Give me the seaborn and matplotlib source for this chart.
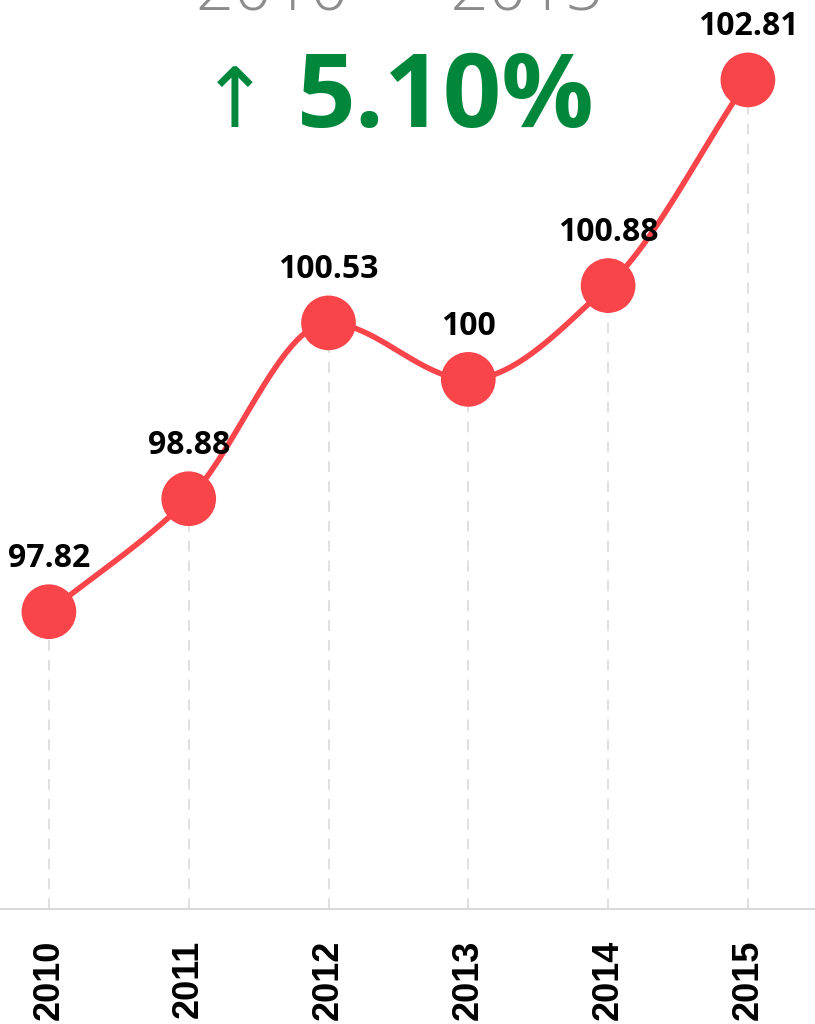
import numpy as np
import pandas as pd
import seaborn as sns
import matplotlib.pyplot as plt

# datos
years = [2010, 2011, 2012, 2013, 2014, 2015]
values = [97.82, 98.88, 100.53, 100.00, 100.88, 102.81]
value_labels = ["97.82", "98.88", "100.53", "100", "100.88", "102.81"]
period_text = "2010  –  2015"
change_text = "5.10%"

red = "#F9444A"
green = "#00873C"


def monotone_curve(x, y, n=40):
    # interpolacion cubica monotona (Fritsch-Carlson) solo para dibujar la curva
    x = np.asarray(x, float)
    y = np.asarray(y, float)
    h = np.diff(x)
    d = np.diff(y) / h
    m = np.zeros_like(y)
    m[0], m[-1] = d[0], d[-1]
    for i in range(1, len(y) - 1):
        if d[i - 1] * d[i] <= 0:
            m[i] = 0
        else:
            w1 = 2 * h[i] + h[i - 1]
            w2 = h[i] + 2 * h[i - 1]
            m[i] = (w1 + w2) / (w1 / d[i - 1] + w2 / d[i])
    xs, ys = [], []
    for i in range(len(x) - 1):
        t = np.linspace(0, 1, n)
        h00 = 2 * t**3 - 3 * t**2 + 1
        h10 = t**3 - 2 * t**2 + t
        h01 = -2 * t**3 + 3 * t**2
        h11 = t**3 - t**2
        xs.extend(x[i] + t * h[i])
        ys.extend(h00 * y[i] + h10 * h[i] * m[i] + h01 * y[i + 1] + h11 * h[i] * m[i + 1])
    return np.array(xs), np.array(ys)


sns.set_style("white")
plt.rcParams['font.family'] = ['Open Sans', 'DejaVu Sans']

fig = plt.figure(figsize=(8.15, 10.24), dpi=100)
ax = fig.add_axes([0, 115 / 1024, 1, 909 / 1024])

df = pd.DataFrame({"year": years, "value": values})
cx, cy = monotone_curve(years, values)
curve = pd.DataFrame({"year": cx, "value": cy})

ymin = 95.03
for x, y in zip(years, values):
    ax.plot([x, x], [ymin, y], color="#DDDDDD", lw=1.3, ls=(0, (6, 5)), zorder=1)

sns.lineplot(data=curve, x="year", y="value", color=red, lw=4, ax=ax, zorder=2)
sns.scatterplot(data=df, x="year", y="value", color=red, s=1550, edgecolor="none", ax=ax, zorder=3)

for x, y, lab in zip(years, values, value_labels):
    ax.annotate(lab, (x, y), xytext=(0, 32), textcoords="offset points",
                ha="center", va="baseline", fontsize=23, fontweight="bold", color="black")

ax.set_xlim(2009.65, 2015.48)
ax.set_ylim(ymin, 103.56)
ax.set_xticks(years)
ax.set_xticklabels([str(y) for y in years], rotation=90)
for t in ax.get_xticklabels():
    t.set_fontfamily("Liberation Sans")
    t.set_fontweight("bold")
    t.set_fontsize(26)
    t.set_color("black")
ax.tick_params(axis="x", length=0, pad=22)
ax.set_yticks([])
ax.set_xlabel("")
ax.set_ylabel("")
for s in ["top", "left", "right"]:
    ax.spines[s].set_visible(False)
ax.spines["bottom"].set_color("#D9D9D9")
ax.spines["bottom"].set_linewidth(1.5)

fig.text(400 / 815, 1 - 10 / 1024, period_text, ha="center", va="baseline",
         fontsize=48, color="#8C8C8C", fontweight="light")
fig.text(235 / 815, 1 - 127 / 1024, "↑", ha="center", va="baseline",
         fontsize=60, color=green, family=["DejaVu Sans"])
fig.text(297 / 815, 1 - 127 / 1024, change_text, ha="left", va="baseline",
         fontsize=74, color=green, fontweight="bold")

fig.savefig("out.png", dpi=100)
